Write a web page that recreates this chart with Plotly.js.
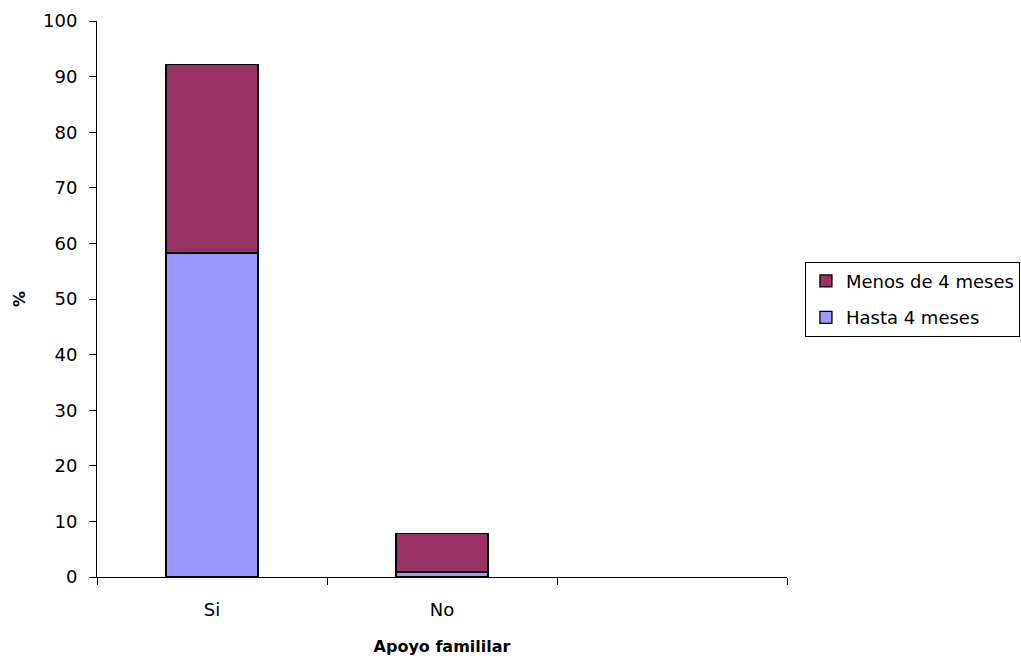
<!DOCTYPE html>
<html>
<head>
<meta charset="utf-8">
<script src="https://cdn.plot.ly/plotly-3.0.1.min.js"></script>
<style>
  html, body { margin: 0; padding: 0; background: #fff; }
  #chart { width: 1021px; height: 661px; }
</style>
</head>
<body>
<div id="chart"></div>
<script>
// Apoyo familiar: share of cases (%) split by duration
const categories = ['Si', 'No'];
const axisCategories = ['Si', 'No', ' '];
const hastaCuatro = [58.3, 0.9];
const menosCuatro = [33.9, 6.9];

const seriesNames = ['Hasta 4 meses', 'Menos de 4 meses'];
const seriesColors = ['#9999FF', '#993366'];
const legendRanks = [2, 1];

const traces = [hastaCuatro, menosCuatro].map((vals, i) => ({
  type: 'bar',
  name: seriesNames[i],
  x: categories,
  y: vals,
  width: 0.4,
  legendgroup: 'g' + i,
  legendrank: legendRanks[i],
  marker: { color: seriesColors[i], line: { color: '#000', width: 1.3 } },
  hoverinfo: 'x+y+name'
}));

const font = { family: 'DejaVu Sans, Arial, sans-serif', size: 18, color: '#000' };
const boldFont = { family: 'DejaVu Sans, Arial, sans-serif', size: 16, color: '#000' };

const layout = {
  width: 1021,
  height: 661,
  paper_bgcolor: '#fff',
  plot_bgcolor: '#fff',
  barmode: 'stack',
  font: font,
  margin: { l: 97, r: 234, t: 21, b: 84, autoexpand: false },
  showlegend: true,
  legend: {
    x: 1.026, y: 0.567, xanchor: 'left', yanchor: 'top',
    bordercolor: '#000', borderwidth: 1, bgcolor: '#fff',
    traceorder: 'grouped',
    tracegroupgap: 10,
    font: font
  },
  xaxis: {
    type: 'category',
    categoryorder: 'array',
    categoryarray: axisCategories,
    range: [-0.5, 2.5],
    tickson: 'boundaries',
    ticks: 'outside', ticklen: 7, tickcolor: '#000', tickwidth: 1,
    ticklabelstandoff: 16,
    showline: true, linecolor: '#000', linewidth: 1,
    showgrid: false, zeroline: false,
    tickfont: font,
    title: { text: '<b>Apoyo famililar</b>', font: boldFont, standoff: 22 }
  },
  yaxis: {
    range: [0, 100],
    tickvals: [0, 10, 20, 30, 40, 50, 60, 70, 80, 90, 100],
    ticks: 'outside', ticklen: 7, tickcolor: '#000', tickwidth: 1,
    ticklabelstandoff: 8,
    showline: true, linecolor: '#000', linewidth: 1,
    showgrid: false, zeroline: false,
    tickfont: font,
    title: { text: '<b>%</b>', font: boldFont, standoff: 13 }
  }
};

Plotly.newPlot('chart', traces, layout, { displayModeBar: false, staticPlot: true });
</script>
</body>
</html>
